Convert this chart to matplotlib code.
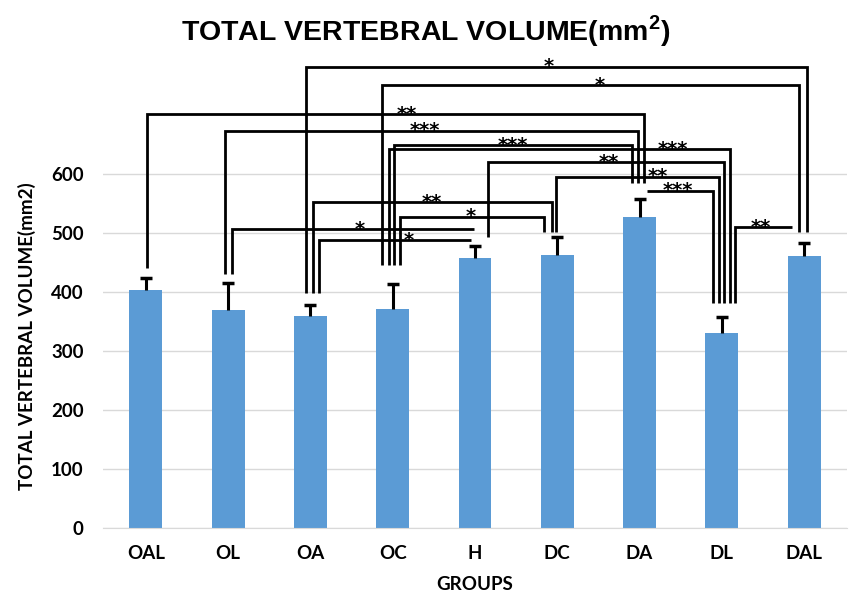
import matplotlib.pyplot as plt

plt.rcParams['mathtext.fontset'] = 'custom'
plt.rcParams['mathtext.bf'] = 'Liberation Sans:bold'

groups = ['OAL', 'OL', 'OA', 'OC', 'H', 'DC', 'DA', 'DL', 'DAL']
volume = [403, 369, 359, 371, 458, 463, 526, 331, 461]
err = [21, 46, 19, 42, 20, 29, 31, 27, 21]

# significance comparisons: (left group, right group, stars)
pairs = [('OA', 'DAL', '*'), ('OC', 'DAL', '*'), ('OAL', 'DA', '**'),
         ('OL', 'DA', '***'), ('OC', 'DA', '***'), ('OC', 'DL', '***'),
         ('H', 'DL', '**'), ('DC', 'DL', '**'), ('DA', 'DL', '***'),
         ('OA', 'DC', '**'), ('OC', 'DC', '*'), ('OL', 'H', '*'),
         ('OA', 'H', '*'), ('DL', 'DAL', '**')]

# bracket layout (same order as pairs)
levels = [781, 750, 701, 673, 648, 641, 619, 595, 571, 552, 527, 506, 487, 509]
left_off = [-0.052, -0.126, 0.02, -0.036, 0.02, -0.041, 0.158, -0.012, 0.085,
            0.029, 0.089, 0.045, 0.109, 0.162]
right_off = [0.04, -0.069, 0.05, -0.024, -0.09, 0.093, 0.02, -0.041, -0.109,
             -0.064, -0.158, -0.009, -0.049, -0.15]
left_leg = [True] * 8 + [False] + [True] * 5
right_leg = [True] * 11 + [False, False, False]
star_x = [4.89, 5.51, 3.17, 3.39, 4.46, 6.40, 5.62, 6.22, 6.47, 3.47, 3.95,
          2.60, 3.20, 7.47]
leg_bottom = {'OAL': 440, 'OL': 430, 'OA': 398, 'OC': 445, 'H': 493,
              'DC': 501, 'DA': 584, 'DL': 381, 'DAL': 501}

fig = plt.figure(figsize=(8.49, 5.96), dpi=100)
ax = fig.add_axes([103 / 849, 68 / 596, 744 / 849, 472.4 / 596])

x = list(range(len(groups)))
ax.bar(x, volume, width=0.4, color='#5B9BD5', zorder=2)
tops = [v + e for v, e in zip(volume, err)]
ax.vlines(x, volume, tops, color='black', lw=2.2, zorder=3)
ax.plot(x, tops, ls='none', marker='_', ms=9, mew=2.5, color='black', zorder=3)

for (g1, g2, lab), y, lo, ro, ll, rl, sx in zip(pairs, levels, left_off, right_off,
                                               left_leg, right_leg, star_x):
    x1 = groups.index(g1) + lo
    x2 = groups.index(g2) + ro
    xs, ys = [x1, x2], [y, y]
    if ll:
        xs, ys = [x1] + xs, [leg_bottom[g1]] + ys
    if rl:
        xs, ys = xs + [x2], ys + [leg_bottom[g2]]
    ax.plot(xs, ys, color='black', lw=2.0, solid_joinstyle='miter',
            solid_capstyle='butt', zorder=4, clip_on=False)
    ax.annotate(lab, (sx, y), xytext=(0, -4), textcoords='offset points',
                ha='center', va='baseline', fontsize=14, fontweight='bold',
                family='DejaVu Sans', annotation_clip=False)

ax.set_xlim(-0.52, 8.52)
ax.set_ylim(0, 800)
ax.set_yticks(range(0, 700, 100))
ax.set_xticks(x)
ax.set_xticklabels(groups)
ax.grid(axis='y', color='#D9D9D9', lw=1)
ax.set_axisbelow(True)
for s in ['top', 'right', 'left']:
    ax.spines[s].set_visible(False)
ax.spines['bottom'].set_color('#D9D9D9')
ax.tick_params(length=0)
ax.tick_params(axis='y', pad=14)
ax.tick_params(axis='x', pad=12)
for t in ax.get_xticklabels() + ax.get_yticklabels():
    t.set_fontfamily('Lato')
    t.set_fontweight('bold')
    t.set_fontsize(13.5)

fig.text(27 / 849, 1 - 336 / 596, 'TOTAL VERTEBRAL VOLUME(mm2)', rotation=90,
         ha='center', va='center', fontsize=13.5, fontweight='bold', family='Lato')
fig.text(475 / 849, 1 - 584 / 596, 'GROUPS', ha='center', va='center',
         fontsize=13.5, fontweight='bold', family='Lato')
fig.text(426 / 849, 1 - 31 / 596, 'TOTAL VERTEBRAL VOLUME(mm$^{\\mathbf{2}}$)',
         ha='center', va='center', fontsize=20.5, fontweight='bold',
         family='Liberation Sans')

fig.savefig('out.png', dpi=100)
